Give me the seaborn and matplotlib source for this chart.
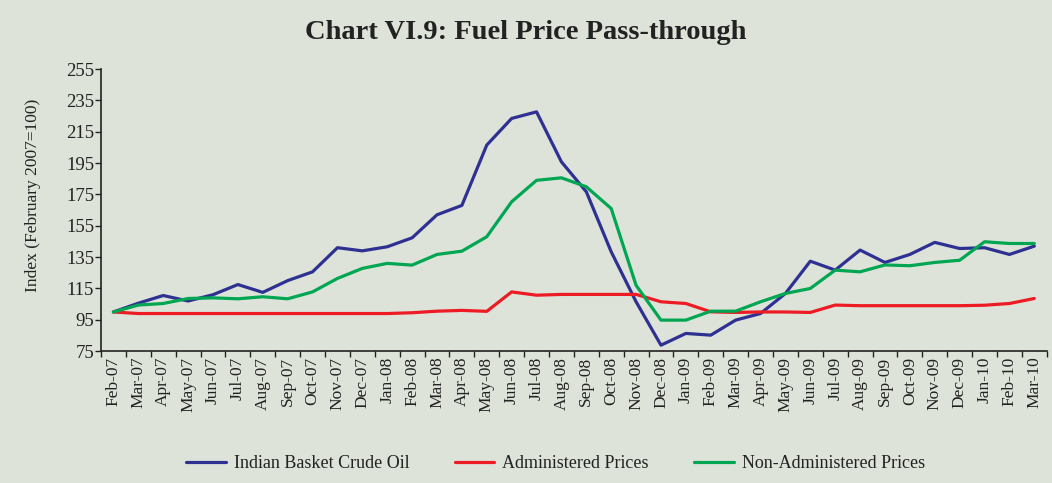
import matplotlib
matplotlib.use("Agg")
import matplotlib.pyplot as plt
import seaborn as sns
import pandas as pd
import numpy as np

months = ["Feb-07", "Mar-07", "Apr-07", "May-07", "Jun-07", "Jul-07", "Aug-07", "Sep-07",
          "Oct-07", "Nov-07", "Dec-07", "Jan-08", "Feb-08", "Mar-08", "Apr-08", "May-08",
          "Jun-08", "Jul-08", "Aug-08", "Sep-08", "Oct-08", "Nov-08", "Dec-08", "Jan-09",
          "Feb-09", "Mar-09", "Apr-09", "May-09", "Jun-09", "Jul-09", "Aug-09", "Sep-09",
          "Oct-09", "Nov-09", "Dec-09", "Jan-10", "Feb-10", "Mar-10"]

crude = [100, 105.6, 110.5, 107, 111, 117.5, 112.5, 120, 125.6, 141, 139, 141.6, 147.3,
         162, 168, 206.5, 223.5, 227.7, 195.8, 176.7, 138.4, 106.5, 78.8, 86.3, 85.2,
         94.8, 99, 111.8, 132.4, 126.7, 139.5, 131.6, 136.7, 144.4, 140.5, 141, 136.7, 142]

administered = [100, 99, 99, 99, 99, 99, 99, 99, 99, 99, 99, 99, 99.5, 100.5, 101, 100.4,
                112.8, 110.7, 111.2, 111.2, 111.2, 111.2, 106.5, 105.4, 100.1, 99.7, 100,
                100, 99.7, 104.4, 104, 104, 104, 104, 104, 104.3, 105.4, 108.6]

non_administered = [100, 104.4, 105.4, 108.6, 109, 108.4, 109.7, 108.4, 112.8, 121.4,
                    127.8, 131, 129.9, 136.7, 138.8, 148, 170.3, 184, 185.6, 179.9, 166,
                    117, 94.8, 94.8, 100.5, 100.5, 106.5, 111.8, 115, 126.7, 125.6, 130,
                    129.5, 131.6, 133, 144.8, 143.7, 143.7]

series_names = ["Indian Basket Crude Oil", "Administered Prices", "Non-Administered Prices"]
colors = ["#2e3192", "#ed1c24", "#00a651"]

bg = "#dee3da"

df = pd.DataFrame({
    "idx": list(range(len(months))) * 3,
    "value": crude + administered + non_administered,
    "series": [series_names[0]] * len(months) + [series_names[1]] * len(months)
              + [series_names[2]] * len(months),
})

sns.set_style("ticks")
plt.rcParams["font.family"] = ["Liberation Serif", "DejaVu Serif"]

fig = plt.figure(figsize=(10.52, 4.83), dpi=100, facecolor=bg)
ax = fig.add_axes([0.096, 0.273, 0.899, 0.584])
ax.set_facecolor(bg)

sns.lineplot(data=df, x="idx", y="value", hue="series", hue_order=series_names,
             palette=colors, linewidth=2.3, ax=ax, legend=True)
for ln in ax.lines:
    ln.set_solid_joinstyle("round")

n = len(months)
ax.set_xlim(-0.5, n - 0.5)
ax.set_ylim(75, 255)
ax.set_yticks(np.arange(75, 256, 20))
ax.tick_params(axis="y", labelsize=13.5, length=4, width=1, colors="#222222", pad=1)
ax.set_xticks(range(n))
ax.set_xticklabels(months, rotation=90, fontsize=12.5, color="#222222")
ax.tick_params(axis="x", which="major", length=0, pad=4)
ax.set_xticks(np.arange(-0.5, n, 1), minor=True)
ax.tick_params(axis="x", which="minor", length=4, width=1, color="#222222")

sns.despine(ax=ax)
for s in ["left", "bottom"]:
    ax.spines[s].set_color("#222222")
    ax.spines[s].set_linewidth(1.2)

ax.set_xlabel("")
ax.set_ylabel("Index (February 2007=100)", fontsize=12.5, color="#222222")
ax.yaxis.set_label_coords(-0.063, 0.553)

fig.suptitle("Chart VI.9: Fuel Price Pass-through", fontsize=20.5, fontweight="bold",
             color="#222222", y=0.958)

handles, labels = ax.get_legend_handles_labels()
ax.legend_.remove()
fig.legend(handles, labels, loc="center", bbox_to_anchor=(0.528, 0.04), ncol=3,
           frameon=False, fontsize=13, handlelength=2.2, handletextpad=0.45,
           columnspacing=2.5, labelcolor="#222222")

fig.savefig("out.png", dpi=100, facecolor=bg)
